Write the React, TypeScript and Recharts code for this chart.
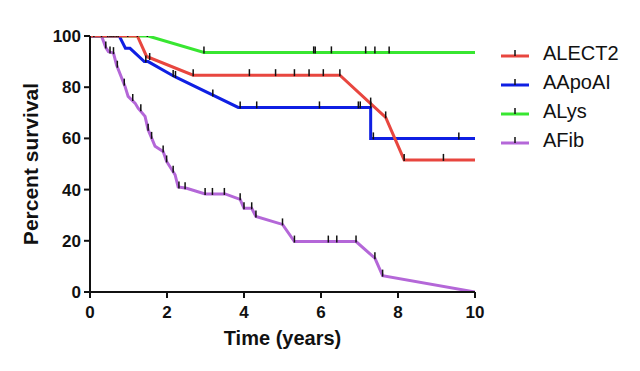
import { ComposedChart, Line, Scatter, XAxis, YAxis } from "recharts";

type Pt = { x: number; y: number };

const xTicks = [0, 2, 4, 6, 8, 10];
const yTicks = [0, 20, 40, 60, 80, 100];

// survival curves (years, percent)
const alect2Curve: Pt[] = [
  { x: 0, y: 100 }, { x: 1.23, y: 100 }, { x: 1.47, y: 92 }, { x: 2.68, y: 84.7 },
  { x: 6.49, y: 84.7 }, { x: 7.29, y: 73.6 }, { x: 7.68, y: 68.2 }, { x: 8.16, y: 51.6 },
  { x: 10, y: 51.6 }
];
const aapoaiCurve: Pt[] = [
  { x: 0, y: 100 }, { x: 0.76, y: 100 }, { x: 0.92, y: 95.2 }, { x: 1.04, y: 95.2 },
  { x: 1.41, y: 90 }, { x: 1.51, y: 90 }, { x: 2.19, y: 84.2 }, { x: 3.85, y: 72.1 },
  { x: 7.29, y: 72.1 }, { x: 7.29, y: 60 }, { x: 10, y: 60 }
];
const alysCurve: Pt[] = [
  { x: 0, y: 100 }, { x: 1.51, y: 100 }, { x: 2.96, y: 93.6 }, { x: 10, y: 93.6 }
];
const afibCurve: Pt[] = [
  { x: 0, y: 100 }, { x: 0.3, y: 100 }, { x: 0.41, y: 95.5 }, { x: 0.48, y: 93.9 },
  { x: 0.61, y: 93.3 }, { x: 0.69, y: 88.7 }, { x: 0.91, y: 80.3 }, { x: 0.99, y: 76.4 },
  { x: 1.17, y: 73.8 }, { x: 1.25, y: 71.8 }, { x: 1.43, y: 68.6 }, { x: 1.51, y: 63.4 },
  { x: 1.69, y: 56.9 }, { x: 1.9, y: 54.9 }, { x: 1.99, y: 51 }, { x: 2.21, y: 45.8 },
  { x: 2.29, y: 41 }, { x: 2.51, y: 40.5 }, { x: 2.99, y: 38.3 }, { x: 3.51, y: 38.3 },
  { x: 3.9, y: 36.2 }, { x: 4.0, y: 32.7 }, { x: 4.2, y: 32.7 }, { x: 4.31, y: 29.5 },
  { x: 5.0, y: 26.4 }, { x: 5.31, y: 19.7 }, { x: 6.91, y: 19.7 }, { x: 7.4, y: 13.2 },
  { x: 7.6, y: 6.4 }, { x: 10, y: 0 }
];

// censored observations
const alect2Censored: Pt[] = [
  { x: 1.55, y: 91 }, { x: 2.68, y: 84.7 }, { x: 4.14, y: 84.7 }, { x: 4.82, y: 84.7 },
  { x: 5.31, y: 84.7 }, { x: 5.69, y: 84.7 }, { x: 6.06, y: 84.7 }, { x: 6.49, y: 84.7 },
  { x: 7.29, y: 73.6 }, { x: 7.68, y: 68.2 }, { x: 8.16, y: 51.6 }, { x: 9.18, y: 51.6 }
];
const aapoaiCensored: Pt[] = [
  { x: 0.68, y: 100 }, { x: 1.45, y: 90 }, { x: 2.16, y: 84.4 }, { x: 2.22, y: 84 },
  { x: 3.19, y: 76.8 }, { x: 3.9, y: 72.1 }, { x: 4.33, y: 72.1 }, { x: 5.96, y: 72.1 },
  { x: 6.97, y: 72.1 }, { x: 7.02, y: 72.1 }, { x: 7.29, y: 72.1 }, { x: 7.36, y: 60 },
  { x: 9.58, y: 60 }
];
const alysCensored: Pt[] = [
  { x: 0.3, y: 100 }, { x: 0.46, y: 100 }, { x: 0.52, y: 100 }, { x: 0.57, y: 100 },
  { x: 0.62, y: 100 }, { x: 0.73, y: 100 }, { x: 0.98, y: 100 }, { x: 1.23, y: 100 },
  { x: 1.49, y: 100 }, { x: 2.96, y: 93.6 }, { x: 5.81, y: 93.6 }, { x: 5.85, y: 93.6 },
  { x: 6.27, y: 93.6 }, { x: 7.16, y: 93.6 }, { x: 7.4, y: 93.6 }, { x: 7.77, y: 93.6 }
];
const afibCensored: Pt[] = [
  { x: 0.1, y: 100 }, { x: 0.41, y: 95.5 }, { x: 0.52, y: 93.6 }, { x: 0.61, y: 93.3 },
  { x: 0.71, y: 88 }, { x: 0.89, y: 81 }, { x: 1.11, y: 75 }, { x: 1.32, y: 71 },
  { x: 1.51, y: 63.4 }, { x: 1.6, y: 60.2 }, { x: 1.9, y: 54.9 }, { x: 1.99, y: 51 },
  { x: 2.16, y: 47 }, { x: 2.31, y: 40.8 }, { x: 2.47, y: 40.5 }, { x: 2.99, y: 38.3 },
  { x: 3.18, y: 38.3 }, { x: 3.49, y: 38.3 }, { x: 3.9, y: 36.2 }, { x: 4.0, y: 32.7 },
  { x: 4.2, y: 32.7 }, { x: 4.31, y: 29.5 }, { x: 5.0, y: 26.4 }, { x: 5.31, y: 19.7 },
  { x: 6.19, y: 19.7 }, { x: 6.41, y: 19.7 }, { x: 6.91, y: 19.7 }, { x: 7.4, y: 13.2 },
  { x: 7.6, y: 6.4 }
];

const series = [
  { name: "ALECT2", color: "#e8463f", curve: alect2Curve, censored: alect2Censored },
  { name: "AApoAI", color: "#0f1fe3", curve: aapoaiCurve, censored: aapoaiCensored },
  { name: "ALys", color: "#38e631", curve: alysCurve, censored: alysCensored },
  { name: "AFib", color: "#b467d8", curve: afibCurve, censored: afibCensored }
];
const drawOrder = [3, 2, 1, 0];

const font = "Arial, 'Liberation Sans', sans-serif";
const ink = "#111";

const CensorMark = (props: any) => {
  const { cx, cy } = props;
  if (cx == null || cy == null) return null;
  return <line x1={cx} x2={cx} y1={cy - 6} y2={cy + 1} stroke={ink} strokeWidth={1.5} />;
};

const YLabel = (props: any) => {
  const vb = props.viewBox;
  const cx = vb.x + 30;
  const cy = vb.y + vb.height / 2;
  return (
    <text
      x={cx}
      y={cy}
      transform={`rotate(-90 ${cx} ${cy})`}
      textAnchor="middle"
      dominantBaseline="central"
      fontFamily={font}
      fontSize={21}
      fontWeight="bold"
      fill={ink}
    >
      Percent survival
    </text>
  );
};

const tickStyle = { fontSize: 17, fontWeight: "bold", fill: ink, fontFamily: font };

export default function App() {
  return (
    <div style={{ position: "absolute", left: 0, top: 0, width: 640, height: 371, background: "#fff" }}>
      <ComposedChart width={640} height={371} margin={{ top: 36, right: 165, bottom: 26, left: 0 }}>
        <XAxis
          type="number"
          dataKey="x"
          domain={[0, 10]}
          ticks={xTicks}
          allowDataOverflow
          height={53}
          stroke={ink}
          strokeWidth={2}
          tickSize={6}
          tickMargin={8}
          tick={tickStyle}
          label={{
            value: "Time (years)",
            position: "insideBottom",
            offset: 0,
            style: { fontSize: 20, fontWeight: "bold", fill: ink, fontFamily: font }
          }}
        />
        <YAxis
          type="number"
          dataKey="y"
          domain={[0, 100]}
          ticks={yTicks}
          allowDataOverflow
          width={90}
          stroke={ink}
          strokeWidth={2}
          tickSize={6}
          tickMargin={3}
          tick={tickStyle}
          label={{ content: YLabel }}
        />
        {drawOrder.map((i) => (
          <Line
            key={series[i].name}
            data={series[i].curve}
            dataKey="y"
            type="linear"
            stroke={series[i].color}
            strokeWidth={3}
            dot={false}
            activeDot={false}
            isAnimationActive={false}
          />
        ))}
        {series.map((s) => (
          <Scatter
            key={s.name + "-c"}
            data={s.censored}
            dataKey="y"
            shape={CensorMark}
            isAnimationActive={false}
          />
        ))}
      </ComposedChart>
      <div style={{ position: "absolute", left: 501, top: 39, fontFamily: font, fontSize: 20, color: ink }}>
        {series.map((s) => (
          <div key={s.name} style={{ display: "flex", alignItems: "center", height: 29 }}>
            <svg width={28} height={12} style={{ display: "block" }}>
              <line x1={0} x2={28} y1={8} y2={8} stroke={s.color} strokeWidth={3} />
              <line x1={14} x2={14} y1={2} y2={8} stroke={ink} strokeWidth={1.5} />
            </svg>
            <span style={{ marginLeft: 14, lineHeight: "29px" }}>{s.name}</span>
          </div>
        ))}
      </div>
    </div>
  );
}
